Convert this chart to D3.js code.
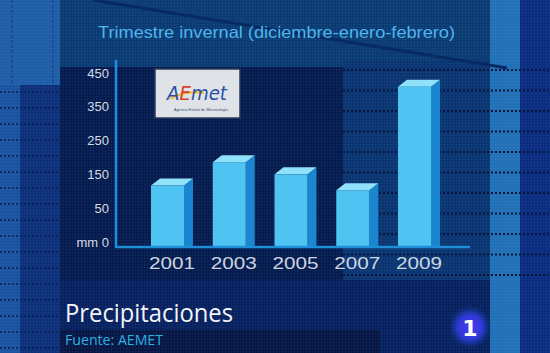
<!DOCTYPE html>
<html>
<head>
<meta charset="utf-8">
<script src="https://cdn.jsdelivr.net/npm/d3@7"></script>
<style>
  body { margin: 0; background: #071d55; }
  svg { display: block; }
</style>
</head>
<body>
<div id="chart"></div>
<script>
// Data (mm, winter quarter Dec-Jan-Feb)
const years = ["2001", "2003", "2005", "2007", "2009"];
const rainfall = [129, 198, 162, 115, 421];
// The tick labels on the original are evenly spaced even though the values aren't
const tickValues = [0, 50, 150, 250, 350, 450];

const width = 550;
const height = 353;
const yBase = 246;
const yStep = 33.8;
const depth = { dx: 9, dy: 7 };

const svg = d3.select("#chart")
    .append("svg")
    .attr("width", width)
    .attr("height", height);

const defs = svg.append("defs");

// fine grid texture
const pat = defs.append("pattern")
    .attr("id", "grid")
    .attr("width", 3)
    .attr("height", 3)
    .attr("patternUnits", "userSpaceOnUse");
pat.append("path")
    .attr("d", "M3 0 L0 0 L0 3")
    .attr("fill", "none")
    .attr("stroke", "rgba(120,170,235,0.10)")
    .attr("stroke-width", 1);

const glow = defs.append("radialGradient").attr("id", "glow");
glow.append("stop").attr("offset", "0%").attr("stop-color", "#4a3cf0");
glow.append("stop").attr("offset", "55%").attr("stop-color", "#3038d8");
glow.append("stop").attr("offset", "75%").attr("stop-color", "#2040c0").attr("stop-opacity", 0.5);
glow.append("stop").attr("offset", "100%").attr("stop-color", "#103080").attr("stop-opacity", 0);

// Background panels
const bg = svg.append("g");
bg.append("rect").attr("width", width).attr("height", height).attr("fill", "#071d55");
bg.append("rect").attr("x", 0).attr("y", 0).attr("width", 60).attr("height", 85).attr("fill", "#1e5ca6");
bg.append("rect").attr("x", 0).attr("y", 85).attr("width", 20).attr("height", 268).attr("fill", "#1a52a0");
bg.append("rect").attr("x", 20).attr("y", 85).attr("width", 40).attr("height", 268).attr("fill", "#0d2e78");
bg.append("rect").attr("x", 60).attr("y", 0).attr("width", 430).attr("height", 67).attr("fill", "#0b3a72");
bg.append("rect").attr("x", 343).attr("y", 60).attr("width", 147).attr("height", 220).attr("fill", "#0a3470");
bg.append("rect").attr("x", 60).attr("y", 67).attr("width", 283).attr("height", 213).attr("fill", "#051a4c");
bg.append("rect").attr("x", 60).attr("y", 280).attr("width", 430).attr("height", 73).attr("fill", "#07205e");
bg.append("rect").attr("x", 60).attr("y", 330).attr("width", 320).attr("height", 23).attr("fill", "#061542");
bg.append("rect").attr("x", 490).attr("y", 0).attr("width", 30).attr("height", height).attr("fill", "#2170b6");
bg.append("rect").attr("x", 520).attr("y", 0).attr("width", 30).attr("height", height).attr("fill", "#0b2b7e");
bg.append("rect").attr("x", 0).attr("y", 0).attr("width", width).attr("height", height).attr("fill", "url(#grid)");

// dashed vertical guides top-left
[12, 53].forEach(x => {
    bg.append("line").attr("x1", x).attr("x2", x).attr("y1", 0).attr("y2", 85)
        .attr("stroke", "#123f80").attr("stroke-dasharray", "3,2");
});

// dotted horizontal lines on the right
d3.range(70, 285, 20.5).forEach(y => {
    bg.append("line").attr("x1", 343).attr("x2", width).attr("y1", y).attr("y2", y)
        .attr("stroke", "#04163f").attr("stroke-width", 2).attr("stroke-dasharray", "2,2");
});
d3.range(92, 353, 16).forEach(y => {
    bg.append("line").attr("x1", 0).attr("x2", 60).attr("y1", y).attr("y2", y)
        .attr("stroke", "#06205a").attr("stroke-width", 1.5).attr("stroke-dasharray", "2,2");
});

// diagonal streak
bg.append("line").attr("x1", 93).attr("y1", 0).attr("x2", 507).attr("y2", 68)
    .attr("stroke", "#082a62").attr("stroke-width", 3);

// Scales
const xScale = d3.scaleBand()
    .domain(years)
    .range([120, 462])
    .paddingInner(0.466)
    .paddingOuter(0.502);

const yScale = d3.scaleLinear()
    .domain(tickValues)
    .range(tickValues.map((d, i) => yBase - i * yStep));

// Title
svg.append("text")
    .attr("x", 98)
    .attr("y", 38)
    .attr("font-family", "Liberation Sans, Arial, sans-serif")
    .attr("font-size", 16.5)
    .attr("fill", "#4db6ea")
    .attr("textLength", 357)
    .attr("lengthAdjust", "spacingAndGlyphs")
    .text("Trimestre invernal (diciembre-enero-febrero)");

// AEMET logo
const logo = svg.append("g");
logo.append("rect")
    .attr("x", 155).attr("y", 69).attr("width", 85).attr("height", 49)
    .attr("fill", "#dfe3e8").attr("stroke", "#2c3a58").attr("stroke-width", 1.5);
logo.append("path")
    .attr("d", "M170 99 Q185 90 204 93")
    .attr("fill", "none").attr("stroke", "#f0c020").attr("stroke-width", 2);
const logoText = logo.append("text")
    .attr("x", 197).attr("y", 100)
    .attr("text-anchor", "middle")
    .attr("font-family", "DejaVu Sans, sans-serif")
    .attr("font-style", "italic")
    .attr("font-size", 19)
    .attr("textLength", 60)
    .attr("lengthAdjust", "spacingAndGlyphs");
logoText.append("tspan").attr("fill", "#2a4ea8").text("A");
logoText.append("tspan").attr("fill", "#d8402a").text("E");
logoText.append("tspan").attr("fill", "#2a4ea8").text("met");
logo.append("text")
    .attr("x", 174).attr("y", 111)
    .attr("font-family", "Liberation Sans, Arial, sans-serif")
    .attr("font-size", 4)
    .attr("fill", "#3a4a70")
    .attr("textLength", 54)
    .attr("lengthAdjust", "spacingAndGlyphs")
    .text("Agencia Estatal de Meteorología");

// Y axis (labels only, line drawn by hand)
const yAxis = svg.append("g")
    .attr("transform", "translate(116, 0)")
    .call(d3.axisLeft(yScale)
        .tickValues(tickValues)
        .tickSize(0)
        .tickPadding(7)
        .tickFormat(d => d === 0 ? "mm 0" : d));
yAxis.select(".domain").remove();
yAxis.selectAll("text")
    .attr("y", -4)
    .attr("fill", "#d6dce6")
    .attr("font-family", "Liberation Sans, Arial, sans-serif")
    .attr("font-size", 13);

// 3D bars
const bars = svg.append("g")
    .selectAll("g")
    .data(years.map((y, i) => ({ year: y, value: rainfall[i] })))
    .join("g");

const w = xScale.bandwidth();

bars.append("polygon")
    .attr("fill", "#1a86cf")
    .attr("points", d => {
        const x = xScale(d.year), y = yScale(d.value);
        return [[x + w, y], [x + w + depth.dx, y - depth.dy], [x + w + depth.dx, yBase], [x + w, yBase]].join(" ");
    });

bars.append("polygon")
    .attr("fill", "#8fe2fa")
    .attr("points", d => {
        const x = xScale(d.year), y = yScale(d.value);
        return [[x, y], [x + depth.dx, y - depth.dy], [x + w + depth.dx, y - depth.dy], [x + w, y]].join(" ");
    });

bars.append("rect")
    .attr("x", d => xScale(d.year))
    .attr("y", d => yScale(d.value))
    .attr("width", w)
    .attr("height", d => yBase - yScale(d.value))
    .attr("fill", "#4fc4f2");

// axis lines
svg.append("line")
    .attr("x1", 116).attr("x2", 116)
    .attr("y1", 60).attr("y2", yBase + 1)
    .attr("stroke", "#1c8fd8").attr("stroke-width", 2.5);
svg.append("line")
    .attr("x1", 115).attr("x2", 470)
    .attr("y1", yBase + 1).attr("y2", yBase + 1)
    .attr("stroke", "#1c8fd8").attr("stroke-width", 2.5);

// Year labels
svg.append("g")
    .selectAll("text")
    .data(years)
    .join("text")
    .attr("x", d => xScale(d) + (w + depth.dx) / 2 - 23)
    .attr("y", 269)
    .attr("font-family", "Liberation Sans, Arial, sans-serif")
    .attr("font-size", 17)
    .attr("fill", "#cdd5e0")
    .attr("textLength", 46)
    .attr("lengthAdjust", "spacingAndGlyphs")
    .text(d => d);

// Caption
svg.append("text")
    .attr("x", 65)
    .attr("y", 322)
    .attr("font-family", "Open Sans, Noto Sans, sans-serif")
    .attr("font-size", 25)
    .attr("fill", "#f2f4f8")
    .attr("textLength", 168)
    .attr("lengthAdjust", "spacingAndGlyphs")
    .text("Precipitaciones");

svg.append("text")
    .attr("x", 65)
    .attr("y", 345)
    .attr("font-family", "Open Sans, Noto Sans, sans-serif")
    .attr("font-size", 14)
    .attr("fill", "#2ab2e4")
    .attr("textLength", 98)
    .attr("lengthAdjust", "spacingAndGlyphs")
    .text("Fuente: AEMET");

// channel bug
svg.append("circle")
    .attr("cx", 470).attr("cy", 327).attr("r", 22)
    .attr("fill", "url(#glow)");
svg.append("text")
    .attr("x", 470).attr("y", 336)
    .attr("text-anchor", "middle")
    .attr("font-family", "DejaVu Sans, sans-serif")
    .attr("font-weight", "bold")
    .attr("font-size", 22)
    .attr("fill", "#ffffff")
    .text("1");
</script>
</body>
</html>
